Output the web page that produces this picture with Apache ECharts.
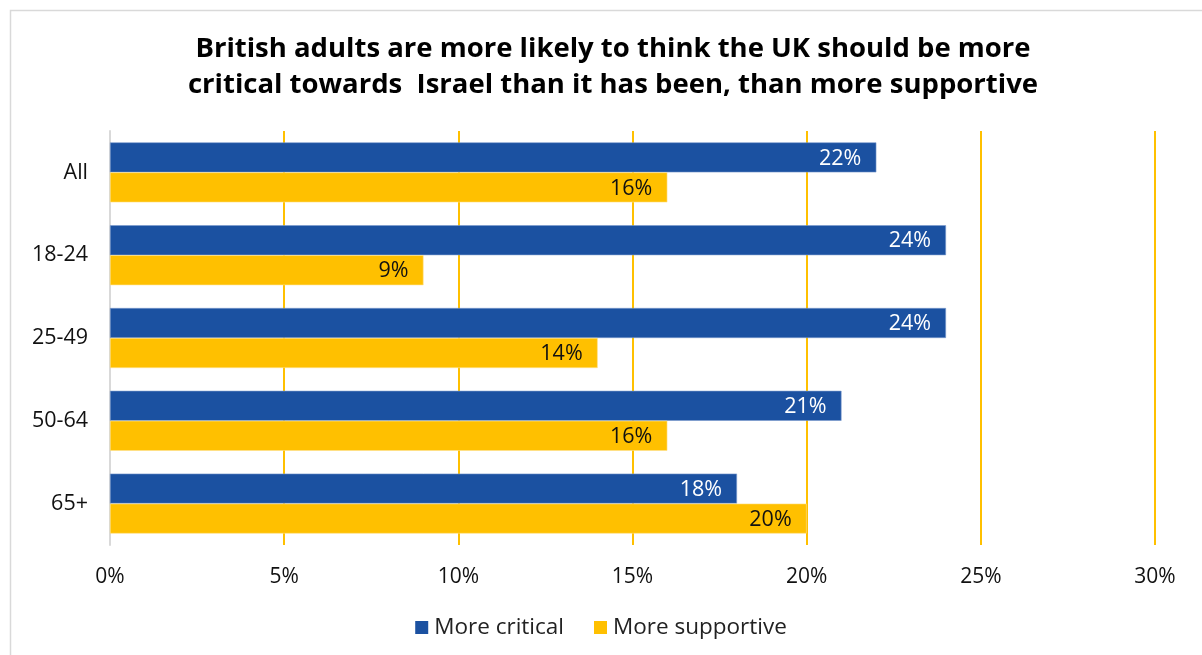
<!DOCTYPE html>
<html>
<head>
<meta charset="utf-8">
<script src="https://cdn.jsdelivr.net/npm/echarts@6/dist/echarts.min.js"></script>
<style>
  html, body { margin: 0; padding: 0; background: #ffffff; }
  #chart { width: 1202px; height: 655px; }
</style>
</head>
<body>
<div id="chart"></div>
<script>
// Age groups, top to bottom
const categories = ['All', '18-24', '25-49', '50-64', '65+'];
// Share of British adults (%)
const moreCritical = [22, 24, 24, 21, 18];
const moreSupportive = [16, 9, 14, 16, 20];
const titleText = 'British adults are more likely to think the UK should be more\ncritical towards  Israel than it has been, than more supportive';

const FONT = '"Open Sans", "Noto Sans", sans-serif';
const chart = echarts.init(document.getElementById('chart'));

chart.setOption({
  animation: false,
  backgroundColor: '#ffffff',
  graphic: [{
    type: 'rect',
    shape: { x: 10.5, y: 10.5, width: 1300, height: 700 },
    style: { fill: 'none', stroke: '#d9d9d9', lineWidth: 1.5 },
    silent: true
  }],
  title: {
    text: titleText,
    left: 608,
    top: 26,
    textAlign: 'center',
    textStyle: {
      fontFamily: FONT,
      fontSize: 27.5,
      fontWeight: 'bold',
      color: '#000000',
      lineHeight: 36
    }
  },
  legend: {
    bottom: 11,
    left: 'center',
    itemWidth: 13,
    itemHeight: 13,
    itemGap: 30,
    icon: 'rect',
    itemStyle: { borderWidth: 0 },
    textStyle: { fontFamily: FONT, fontSize: 22.5, color: '#222222', padding: [0, 0, 0, 1] },
    data: ['More critical', 'More supportive']
  },
  grid: { left: 110, right: 47, top: 131, bottom: 110, containLabel: false },
  xAxis: {
    type: 'value',
    min: 0,
    max: 30,
    interval: 5,
    axisLine: { show: false },
    axisTick: { show: false },
    axisLabel: {
      formatter: '{value}%',
      fontFamily: FONT,
      fontSize: 21,
      color: '#111111',
      margin: 22
    },
    splitLine: {
      show: true,
      lineStyle: { color: '#FFC000', width: 2 }
    }
  },
  yAxis: {
    type: 'category',
    data: categories,
    inverse: true,
    axisLine: { show: true, lineStyle: { color: '#d9d9d9', width: 2 } },
    axisTick: { show: false },
    axisLabel: {
      fontFamily: FONT,
      fontSize: 21.5,
      color: '#111111',
      margin: 22
    }
  },
  series: [
    {
      name: 'More critical',
      type: 'bar',
      data: moreCritical,
      barWidth: 30,
      barGap: '0%',
      itemStyle: { color: '#1B51A1', borderColor: '#7b9bcc', borderWidth: 0.6 },
      label: {
        show: true,
        position: 'insideRight',
        formatter: '{c}%',
        fontFamily: FONT,
        fontSize: 21.5,
        color: '#ffffff',
        offset: [-10, 1]
      },
      z: 3
    },
    {
      name: 'More supportive',
      type: 'bar',
      data: moreSupportive,
      barWidth: 30,
      barGap: '0%',
      itemStyle: { color: '#FFC000', borderColor: '#ffe08a', borderWidth: 0.6 },
      label: {
        show: true,
        position: 'insideRight',
        formatter: '{c}%',
        fontFamily: FONT,
        fontSize: 21.5,
        color: '#111111',
        offset: [-10, 1]
      },
      z: 3
    }
  ]
});
</script>
</body>
</html>
